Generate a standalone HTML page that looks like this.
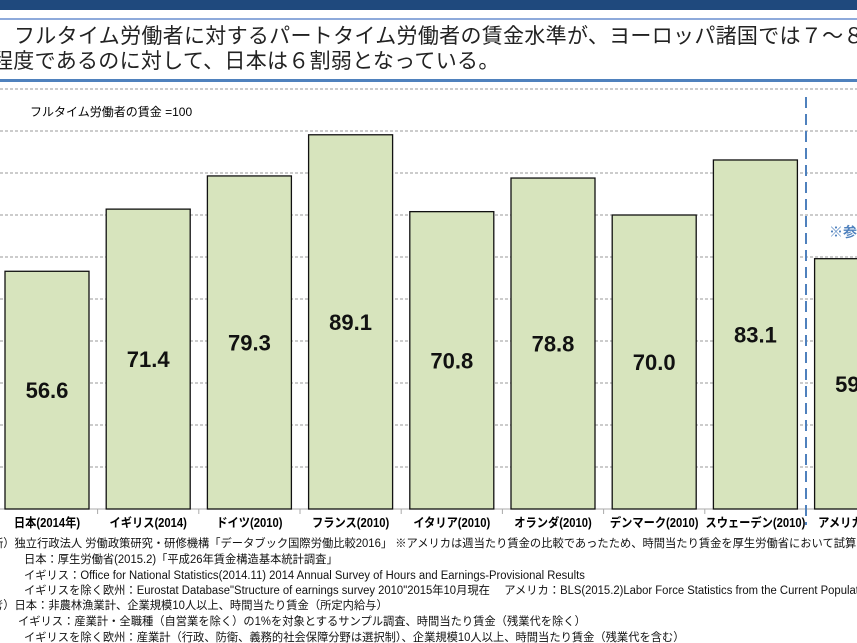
<!DOCTYPE html>
<html><head><meta charset="utf-8"><style>
body{margin:0;width:857px;height:643px;overflow:hidden;background:#fff;font-family:"Liberation Sans","Noto Sans CJK JP",sans-serif}
#wrap{position:relative;width:857px;height:643px;overflow:hidden}
.t{position:absolute;white-space:nowrap}
.title{font-size:21px;color:#222;left:0;letter-spacing:0.3px}
.fn{font-size:11.5px;color:#111;transform-origin:0 0;transform:scaleX(0.98)}
</style></head><body>
<div id="wrap">
<div style="position:absolute;left:0;top:0;width:857px;height:10px;background:#1f497d"></div>
<div style="position:absolute;left:0;top:18px;width:857px;height:2px;background:#8eaadb"></div>
<div class="t title" style="top:20px;left:14px">フルタイム労働者に対するパートタイム労働者の賃金水準が、ヨーロッパ諸国では７～８割</div>
<div class="t title" style="top:45px;left:-8px">程度であるのに対して、日本は６割弱となっている。</div>
<div style="position:absolute;left:0;top:79px;width:857px;height:3px;background:#4f81bd"></div>
<svg id="chart" width="857" height="643" style="position:absolute;left:0;top:0"></svg>
<div class="t" style="left:30px;top:103px;font-size:12px">フルタイム労働者の賃金 =100</div>
<div class="t" style="left:829px;top:222px;font-size:14px;color:#4f81bd;font-weight:bold">※参考</div>
<div class="t fn" style="left:-8px;top:535px">所）独立行政法人 労働政策研究・研修機構「データブック国際労働比較2016」 ※アメリカは週当たり賃金の比較であったため、時間当たり賃金を厚生労働省において試算</div>
<div class="t fn" style="left:24px;top:551px">日本：厚生労働省(2015.2)「平成26年賃金構造基本統計調査」</div>
<div class="t fn" style="left:24px;top:567px">イギリス：Office for National Statistics(2014.11) 2014 Annual Survey of Hours and Earnings-Provisional Results</div>
<div class="t fn" style="left:24px;top:582px">イギリスを除く欧州：Eurostat Database"Structure of earnings survey 2010"2015年10月現在　 アメリカ：BLS(2015.2)Labor Force Statistics from the Current Population Survey</div>
<div class="t fn" style="left:-8px;top:597px">考）日本：非農林漁業計、企業規模10人以上、時間当たり賃金（所定内給与）</div>
<div class="t fn" style="left:18px;top:613px">イギリス：産業計・全職種（自営業を除く）の1%を対象とするサンプル調査、時間当たり賃金（残業代を除く）</div>
<div class="t fn" style="left:24px;top:629px">イギリスを除く欧州：産業計（行政、防衛、義務的社会保障分野は選択制）、企業規模10人以上、時間当たり賃金（残業代を含む）</div>
</div>
<script>
const categories=["日本(2014年)","イギリス(2014)","ドイツ(2010)","フランス(2010)","イタリア(2010)","オランダ(2010)","デンマーク(2010)","スウェーデン(2010)","アメリカ(2014)"];
const values=[56.6,71.4,79.3,89.1,70.8,78.8,70.0,83.1,59.6];
const labels=["56.6","71.4","79.3","89.1","70.8","78.8","70.0","83.1","59.6"];
const gridTicks=[10,20,30,40,50,60,70,80,90,100];
const svg=document.getElementById('chart');
const NS='http://www.w3.org/2000/svg';
const y0=509,pu=4.2,x0=47,step=101.2,bw=84;
const y=v=>y0-v*pu, xc=i=>x0+i*step;
function mk(t,a){const e=document.createElementNS(NS,t);for(const k in a)e.setAttribute(k,a[k]);svg.appendChild(e);return e;}
gridTicks.forEach(v=>{const l=mk('line',{x1:0,x2:857,y1:y(v),y2:y(v),stroke:'#999','stroke-dasharray':'3,2','stroke-width':1});

});
const ax=mk('line',{x1:0,x2:857,y1:y0,y2:y0,stroke:'#aaa','stroke-width':1});


for(let i=0;i<=9;i++){const tk=mk('line',{x1:xc(i)-step/2,x2:xc(i)-step/2,y1:y0,y2:y0+5,stroke:'#aaa'});

}
const dv=mk('line',{x1:806,x2:806,y1:97,y2:525,stroke:'#4f81bd','stroke-width':2,'stroke-dasharray':'11,6'});


values.forEach((v,i)=>{
 const r=mk('rect',{x:xc(i)-bw/2,y:y(v),width:bw,height:v*pu,fill:'#d7e4bd',stroke:'#111','stroke-width':1.3});
 
 
 const t=mk('text',{x:xc(i),y:(y(v)+y0)/2+8,'text-anchor':'middle','font-size':22,'font-weight':'bold',fill:'#111','font-family':'Liberation Sans, sans-serif'});
 t.textContent=labels[i];
 
 
 const c=mk('text',{x:0,y:0,'text-anchor':'middle','font-size':12.5,'font-weight':'bold',fill:'#000','font-family':'Liberation Sans, Noto Sans CJK JP, sans-serif',transform:'translate('+xc(i)+',527) scale(0.9,1)'});
 c.textContent=categories[i];
 
 
});
</script>
</body></html>
